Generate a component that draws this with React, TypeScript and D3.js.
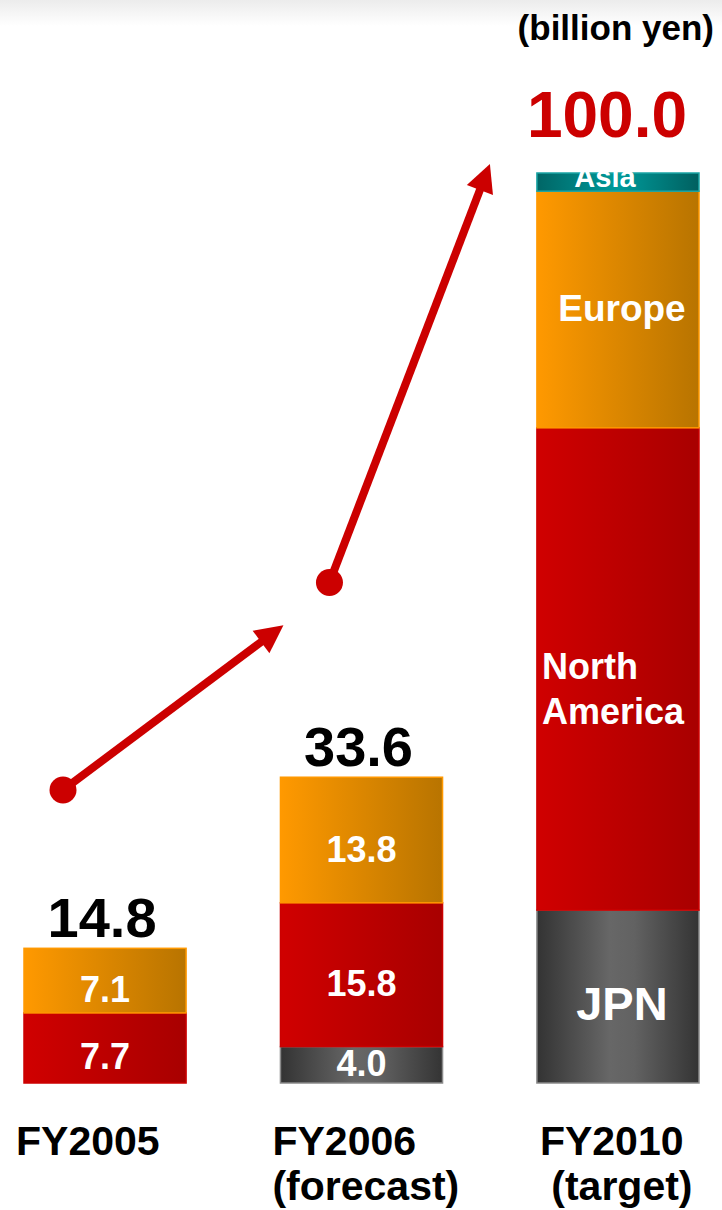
import React from "react";
import * as d3 from "d3";

// ---- data ----
const categories = ["FY2005", "FY2006", "FY2010"];
const categoryLines = [["FY2005"], ["FY2006", "(forecast)"], ["FY2010", "\u00a0(target)"]];
const regionKeys = ["jpn", "northAmerica", "europe", "asia"];
const jpn = [0, 4.0, 19];
const northAmerica = [7.7, 15.8, 53];
const europe = [7.1, 13.8, 26];
const asia = [0, 0, 2];
const totals = [14.8, 33.6, 100.0];
const regionNames = { jpn: ["JPN"], northAmerica: ["North", "America"], europe: ["Europe"], asia: ["Asia"] };
const unitLabel = "(billion yen)";

const W = 722;
const H = 1210;
const FONT = "'Liberation Sans', Arial, Helvetica, sans-serif";

const rows = categories.map((c, i) => ({
  cat: c,
  jpn: jpn[i],
  northAmerica: northAmerica[i],
  europe: europe[i],
  asia: asia[i],
}));

const fills: Record<string, string> = {
  jpn: "url(#gGray)",
  northAmerica: "url(#gRed)",
  europe: "url(#gOrange)",
  asia: "url(#gTeal)",
};
const strokes: Record<string, string> = {
  jpn: "#8a8a8a",
  northAmerica: "#cc0000",
  europe: "#ff9900",
  asia: "#1aa5a5",
};

export default function App() {
  const x = d3.scaleBand<string>().domain(categories).range([24, 699]).paddingInner(0.368).paddingOuter(0);
  const y = d3.scaleLinear().domain([0, 100]).range([1083, 173]);
  const bw = x.bandwidth();
  const stack = d3.stack<any>().keys(regionKeys)(rows as any);

  const detailIdx = 2; // target bar shows region names

  // trend arrows (annotation), anchored on the scales
  const c1 = [x("FY2005")! + 39, y(32.2)];
  const t1 = [x("FY2006")! + 3, y(50.3)];
  const c2 = [x("FY2006")! + 49, y(55.0)];
  const t2 = [x("FY2010")! - 47, y(101.0)];

  const arrow = (a: number[], b: number[], key: string) => {
    const ang = Math.atan2(b[1] - a[1], b[0] - a[0]);
    const headLen = 28;
    const headW = 14;
    const bx = b[0] - headLen * Math.cos(ang);
    const by = b[1] - headLen * Math.sin(ang);
    const px = -Math.sin(ang);
    const py = Math.cos(ang);
    const head = d3.path();
    head.moveTo(b[0], b[1]);
    head.lineTo(bx + px * headW, by + py * headW);
    head.lineTo(bx - px * headW, by - py * headW);
    head.closePath();
    return (
      <g key={key}>
        <line x1={a[0]} y1={a[1]} x2={bx + 2 * Math.cos(ang)} y2={by + 2 * Math.sin(ang)} stroke="#cc0000" strokeWidth={8} />
        <path d={head.toString()} fill="#cc0000" />
        <circle cx={a[0]} cy={a[1]} r={13.5} fill="#cc0000" />
      </g>
    );
  };

  return (
    <svg width={W} height={H} style={{ position: "absolute", left: 0, top: 0, background: "#fff" }} fontFamily={FONT}>
      <defs>
        <linearGradient id="gTop" x1="0" y1="0" x2="0" y2="1">
          <stop offset="0" stopColor="#ececec" />
          <stop offset="1" stopColor="#ffffff" />
        </linearGradient>
        <linearGradient id="gOrange" x1="0" y1="0" x2="1" y2="0">
          <stop offset="0" stopColor="#ff9900" />
          <stop offset="1" stopColor="#b87400" />
        </linearGradient>
        <linearGradient id="gRed" x1="0" y1="0" x2="1" y2="0">
          <stop offset="0" stopColor="#d00000" />
          <stop offset="1" stopColor="#a80000" />
        </linearGradient>
        <linearGradient id="gGray" x1="0" y1="0" x2="1" y2="0">
          <stop offset="0" stopColor="#333333" />
          <stop offset="0.45" stopColor="#676767" />
          <stop offset="0.6" stopColor="#626262" />
          <stop offset="1" stopColor="#343434" />
        </linearGradient>
        <linearGradient id="gTeal" x1="0" y1="0" x2="1" y2="0">
          <stop offset="0" stopColor="#006666" />
          <stop offset="0.5" stopColor="#009a9a" />
          <stop offset="1" stopColor="#006060" />
        </linearGradient>
      </defs>

      <rect x={0} y={0} width={W} height={26} fill="url(#gTop)" />

      <text x={714} y={40} textAnchor="end" fontSize={35} fontWeight="bold" fill="#000">
        {unitLabel}
      </text>

      {stack.map((series) =>
        series.map((d, i) => {
          const v = d[1] - d[0];
          if (v <= 0) return null;
          const x0 = x(categories[i])!;
          return (
            <rect
              key={series.key + i}
              x={x0}
              y={y(d[1])}
              width={bw}
              height={y(d[0]) - y(d[1])}
              fill={fills[series.key]}
              stroke={strokes[series.key]}
              strokeWidth={1.5}
            />
          );
        })
      )}

      {/* segment labels */}
      {stack.map((series) =>
        series.map((d, i) => {
          const v = d[1] - d[0];
          if (v <= 0) return null;
          const x0 = x(categories[i])!;
          const cx = x0 + bw / 2;
          const top = y(d[1]);
          const bot = y(d[0]);
          const cy = (top + bot) / 2;
          const h = bot - top;
          if (i === detailIdx) {
            const key = series.key as string;
            const lines = (regionNames as any)[key] as string[];
            if (key === "asia") {
              return (
                <text key={"l" + key + i} x={cx - 13} y={cy + 5} textAnchor="middle" fontSize={29} fontWeight="bold" fill="#fff">
                  {lines[0]}
                </text>
              );
            }
            if (key === "northAmerica") {
              return (
                <text key={"l" + key + i} x={x0 + 5} y={cy + 10} fontSize={36} fontWeight="bold" fill="#fff">
                  {lines.map((t, k) => (
                    <tspan key={k} x={x0 + 5} dy={k === 0 ? 0 : 45}>
                      {t}
                    </tspan>
                  ))}
                </text>
              );
            }
            const fs = key === "jpn" ? 47 : 37;
            return (
              <text key={"l" + key + i} x={cx + 4} y={cy + fs * 0.36 + (key === "jpn" ? 7 : -2)} textAnchor="middle" fontSize={fs} fontWeight="bold" fill="#fff">
                {lines[0]}
              </text>
            );
          }
          const off = h > 50 ? 9 : -1;
          return (
            <text key={"l" + series.key + i} x={cx} y={cy + 12.5 + off} textAnchor="middle" fontSize={36} fontWeight="bold" fill="#fff">
              {d3.format(".1f")(v)}
            </text>
          );
        })
      )}

      {/* totals */}
      {totals.map((t, i) => (
        <text
          key={"t" + i}
          x={x(categories[i])! + bw / 2 - (i === detailIdx ? 11 : 3)}
          y={y(t) - (i === detailIdx ? 36 : 11)}
          textAnchor="middle"
          fontSize={i === detailIdx ? 64 : 56}
          fontWeight="bold"
          fill={i === detailIdx ? "#cc0000" : "#000"}
        >
          {d3.format(".1f")(t)}
        </text>
      ))}

      {/* category labels */}
      {categoryLines.map((lines, i) => {
        const lx = x(categories[i])! + (i === detailIdx ? 3 : -8);
        return (
          <text key={"c" + i} x={lx} y={1155} fontSize={41} fontWeight="bold" fill="#000" xmlSpace="preserve">
            {lines.map((t, k) => (
              <tspan key={k} x={lx} dy={k === 0 ? 0 : 45}>
                {t}
              </tspan>
            ))}
          </text>
        );
      })}

      {arrow(c1, t1, "a1")}
      {arrow(c2, t2, "a2")}
    </svg>
  );
}
